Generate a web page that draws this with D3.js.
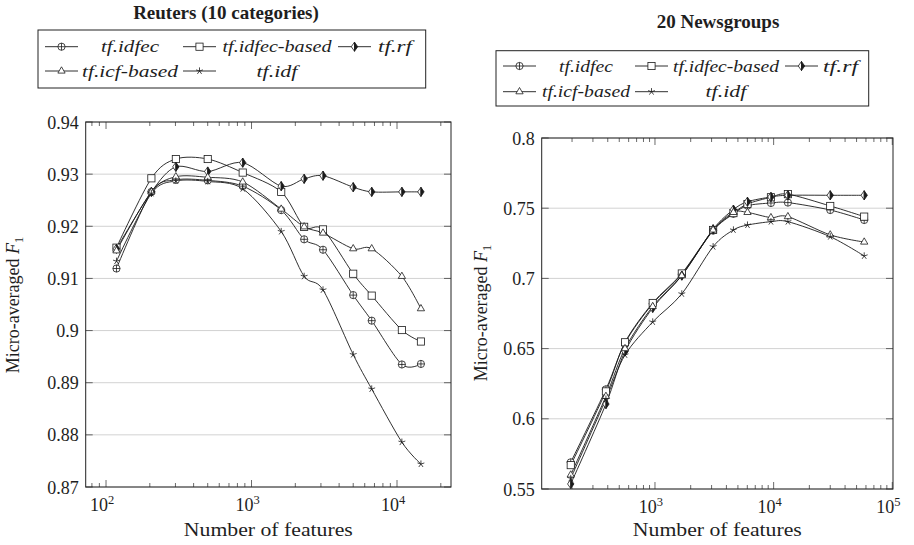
<!DOCTYPE html>
<html><head><meta charset="utf-8">
<script src="https://cdn.jsdelivr.net/npm/d3@7"></script>
<style>
html,body{margin:0;padding:0;background:#fff;}
svg{display:block;}
</style></head>
<body>
<svg id="chart" width="914" height="545"></svg>
<script>
// ---------------- DATA ----------------
const seriesNames = ["tf.idfec", "tf.idfec-based", "tf.rf", "tf.icf-based", "tf.idf"];
const seriesMarkers = ["oplus", "square", "halfdiamond", "triangle", "star"];

// Reuters (10 categories)
const reutersFeatures = [118, 205, 302, 500, 870, 1600, 2300, 3100, 5000, 6700, 10800, 14600];
const reutersIdfec      = [0.9119, 0.9266, 0.9289, 0.9288, 0.9277, 0.9231, 0.9175, 0.9155, 0.9068, 0.9019, 0.8935, 0.8936];
const reutersIdfecBased = [0.9159, 0.9292, 0.9329, 0.9329, 0.9303, 0.9266, 0.9199, 0.9194, 0.9109, 0.9067, 0.9001, 0.8979];
const reutersRf         = [0.9157, 0.9266, 0.9314, 0.9305, 0.9322, 0.9277, 0.9291, 0.9297, 0.9275, 0.9266, 0.9266, 0.9266];
const reutersIcfBased   = [0.9153, 0.9266, 0.9295, 0.9294, 0.9285, 0.9233, 0.9199, 0.9187, 0.9157, 0.9157, 0.9104, 0.9042];
const reutersIdf        = [0.9133, 0.9263, 0.9287, 0.9286, 0.9272, 0.9190, 0.9104, 0.9078, 0.8954, 0.8888, 0.8786, 0.8744];
const reutersYTicks = [0.87, 0.88, 0.89, 0.9, 0.91, 0.92, 0.93, 0.94];
const reutersYTickLabels = ["0.87", "0.88", "0.89", "0.9", "0.91", "0.92", "0.93", "0.94"];
const reutersXTicks = [100, 1000, 10000];
const reutersXTickExp = ["2", "3", "4"];

// 20 Newsgroups
const newsFeatures = [195, 386, 559, 957, 1683, 3090, 4584, 6020, 9490, 13190, 30000, 58000];
const newsIdfec      = [0.569, 0.621, 0.654, 0.682, 0.703, 0.734, 0.746, 0.7518, 0.7537, 0.754, 0.7487, 0.7416];
const newsIdfecBased = [0.567, 0.6195, 0.6545, 0.6825, 0.7035, 0.7345, 0.7465, 0.753, 0.7578, 0.760, 0.7516, 0.744];
const newsRf         = [0.5536, 0.6105, 0.648, 0.679, 0.702, 0.735, 0.749, 0.7546, 0.758, 0.7592, 0.7592, 0.7592];
const newsIcfBased   = [0.560, 0.616, 0.650, 0.680, 0.702, 0.7345, 0.747, 0.747, 0.7433, 0.744, 0.731, 0.7259];
const newsIdf        = [0.5575, 0.614, 0.6455, 0.669, 0.689, 0.7226, 0.7345, 0.738, 0.7404, 0.7404, 0.7297, 0.716];
const newsYTicks = [0.55, 0.6, 0.65, 0.7, 0.75, 0.8];
const newsYTickLabels = ["0.55", "0.6", "0.65", "0.7", "0.75", "0.8"];
const newsXTicks = [1000, 10000, 100000];
const newsXTickExp = ["3", "4", "5"];

// ---------------- DRAWING ----------------
const FONT_CSS = "font-family:'Liberation Serif','Times New Roman',Times,serif";
const svg = d3.select("#chart");
const INK = "#1a1a1a";

function txt(sel) { return sel.attr("style", FONT_CSS).attr("fill", "#1e1e1e"); }

function drawMarker(g, type, x, y) {
  const s = 3.6;
  if (type === "oplus") {
    g.append("circle").attr("cx", x).attr("cy", y).attr("r", s).attr("fill", "#fff").attr("stroke", INK).attr("stroke-width", 0.8);
    g.append("path").attr("d", `M${x - s},${y}H${x + s}M${x},${y - s}V${y + s}`).attr("stroke", INK).attr("stroke-width", 0.8);
  } else if (type === "square") {
    g.append("rect").attr("x", x - s).attr("y", y - s).attr("width", 2 * s).attr("height", 2 * s).attr("fill", "#fff").attr("stroke", INK).attr("stroke-width", 0.8);
  } else if (type === "halfdiamond") {
    const w = 3.2, h = 4.6;
    g.append("path").attr("d", `M${x},${y - h}L${x - w},${y}L${x},${y + h}Z`).attr("fill", "#fff").attr("stroke", INK).attr("stroke-width", 0.8);
    g.append("path").attr("d", `M${x},${y - h}L${x + w},${y}L${x},${y + h}Z`).attr("fill", INK).attr("stroke", INK).attr("stroke-width", 0.8);
  } else if (type === "triangle") {
    const r = 4.2;
    g.append("path").attr("d", `M${x},${y - r}L${x + r * 0.866},${y + r * 0.5}L${x - r * 0.866},${y + r * 0.5}Z`).attr("fill", "#fff").attr("stroke", INK).attr("stroke-width", 0.8);
  } else if (type === "star") {
    let d = "";
    for (let k = 0; k < 5; k++) {
      const a = -Math.PI / 2 + k * 2 * Math.PI / 5;
      d += `M${x},${y}L${x + s * Math.cos(a)},${y + s * Math.sin(a)}`;
    }
    g.append("path").attr("d", d).attr("stroke", INK).attr("stroke-width", 0.8).attr("fill", "none");
  }
}

function drawPanel(cfg) {
  const g = svg.append("g");
  const x = d3.scaleLog().domain(cfg.xDomain).range([cfg.left, cfg.right]);
  const y = d3.scaleLinear().domain(cfg.yDomain).range([cfg.bottom, cfg.top]);

  g.selectAll(".grid").data(cfg.yTicks).join("line")
    .attr("x1", cfg.left).attr("x2", cfg.right)
    .attr("y1", d => y(d)).attr("y2", d => y(d))
    .attr("stroke", "#d2d2d2").attr("stroke-width", 1);

  const [lo, hi] = cfg.xDomain;
  const minors = [];
  for (let e = Math.floor(Math.log10(lo)); e <= Math.ceil(Math.log10(hi)); e++) {
    for (let m = 2; m <= 9; m++) {
      const v = m * Math.pow(10, e);
      if (v > lo && v < hi) minors.push(v);
    }
  }
  const tickPath = [];
  minors.forEach(v => { const px = x(v); tickPath.push(`M${px},${cfg.bottom}v-4M${px},${cfg.top}v4`); });
  cfg.xTicks.forEach(v => { const px = x(v); tickPath.push(`M${px},${cfg.bottom}v-7M${px},${cfg.top}v7`); });
  cfg.yTicks.forEach(v => { const py = y(v); tickPath.push(`M${cfg.left},${py}h7M${cfg.right},${py}h-7`); });
  g.append("path").attr("d", tickPath.join("")).attr("stroke", "#444").attr("stroke-width", 0.8).attr("fill", "none");

  const yAxis = d3.axisLeft(y).tickValues(cfg.yTicks).tickFormat((d, i) => cfg.yTickLabels[i]).tickSize(0).tickPadding(7);
  const ya = g.append("g").attr("transform", `translate(${cfg.left},0)`).call(yAxis);
  ya.attr("font-family", null).attr("font-size", null);
  ya.select(".domain").remove();
  txt(ya.selectAll("text")).attr("font-size", 18).attr("dy", "0.34em");

  cfg.xTicks.forEach((v, i) => {
    const t = txt(g.append("text")).attr("x", x(v) - 4).attr("y", cfg.bottom + 24)
      .attr("text-anchor", "middle").attr("font-size", 18);
    t.append("tspan").text("10");
    t.append("tspan").attr("dy", -7).attr("font-size", 12.5).text(cfg.xTickExp[i]);
  });

  g.append("rect").attr("x", cfg.left).attr("y", cfg.top).attr("width", cfg.right - cfg.left).attr("height", cfg.bottom - cfg.top)
    .attr("fill", "none").attr("stroke", "#222").attr("stroke-width", 1);

  const line = d3.line().x(d => x(d[0])).y(d => y(d[1])).curve(d3.curveCardinal.tension(0.1));
  cfg.series.forEach((vals) => {
    const pts = cfg.xs.map((xv, i) => [xv, vals[i]]);
    g.append("path").attr("d", line(pts)).attr("fill", "none").attr("stroke", INK).attr("stroke-width", 0.9);
  });
  cfg.series.forEach((vals, si) => {
    const mg = g.append("g");
    cfg.xs.forEach((xv, i) => drawMarker(mg, seriesMarkers[si], x(xv), y(vals[i])));
  });

  txt(g.append("text")).attr("x", (cfg.left + cfg.right) / 2).attr("y", 536).attr("text-anchor", "middle")
    .attr("font-size", 18).attr("textLength", 169).attr("lengthAdjust", "spacingAndGlyphs").text("Number of features");
  const yl = txt(g.append("text")).attr("transform", `translate(${cfg.yLabelX},${cfg.yLabelY}) rotate(-90)`)
    .attr("text-anchor", "middle").attr("font-size", 18);
  yl.append("tspan").text("Micro-averaged ");
  yl.append("tspan").attr("font-style", "italic").text("F");
  yl.append("tspan").attr("dy", 4).attr("font-size", 12.5).text("1");

  txt(g.append("text")).attr("x", cfg.titleX).attr("y", cfg.titleY).attr("text-anchor", "middle")
    .attr("font-size", 19).attr("font-weight", "bold").text(cfg.title);

  const L = cfg.legend;
  g.append("rect").attr("x", L.x).attr("y", L.y).attr("width", L.w).attr("height", L.h)
    .attr("fill", "#fff").attr("stroke", "#222").attr("stroke-width", 1);
  seriesNames.forEach((name, i) => {
    const row = Math.floor(i / 3), col = i % 3;
    const ry = L.y + L.rows[row];
    const lx = L.x + L.lineX[col];
    g.append("line").attr("x1", lx).attr("x2", lx + 33).attr("y1", ry).attr("y2", ry).attr("stroke", INK).attr("stroke-width", 0.9);
    drawMarker(g, seriesMarkers[i], lx + 16.5, ry);
    txt(g.append("text")).attr("x", L.x + L.textX[col]).attr("y", ry + 5.5).attr("text-anchor", "middle")
      .attr("font-style", "italic").attr("font-size", L.fs)
      .attr("textLength", L.widths[i]).attr("lengthAdjust", "spacingAndGlyphs").text(name);
  });
}

drawPanel({
  title: "Reuters (10 categories)", titleX: 226, titleY: 19,
  left: 85.7, right: 451, top: 122, bottom: 487,
  xDomain: [72.5, 23500], yDomain: [0.87, 0.94],
  yTicks: reutersYTicks, yTickLabels: reutersYTickLabels,
  xTicks: reutersXTicks, xTickExp: reutersXTickExp,
  xs: reutersFeatures,
  series: [reutersIdfec, reutersIdfecBased, reutersRf, reutersIcfBased, reutersIdf],
  yLabelX: 19, yLabelY: 305,
  legend: { x: 38, y: 30, w: 387.7, h: 58, rows: [16.7, 41], lineX: [7, 145, 300], textX: [92, 239, 357], fs: 17.5,
            widths: [58, 109, 34, 96, 41] }
});

drawPanel({
  title: "20 Newsgroups", titleX: 718, titleY: 28,
  left: 541.7, right: 893, top: 138, bottom: 489,
  xDomain: [111, 101400], yDomain: [0.55, 0.8],
  yTicks: newsYTicks, yTickLabels: newsYTickLabels,
  xTicks: newsXTicks, xTickExp: newsXTickExp,
  xs: newsFeatures,
  series: [newsIdfec, newsIdfecBased, newsRf, newsIcfBased, newsIdf],
  yLabelX: 487, yLabelY: 313,
  legend: { x: 496, y: 50.7, w: 372.7, h: 55.3, rows: [15.3, 41], lineX: [7, 139, 289], textX: [90, 230, 344.5], fs: 17,
            widths: [54, 106, 35, 88, 41] }
});
</script>
</body></html>
